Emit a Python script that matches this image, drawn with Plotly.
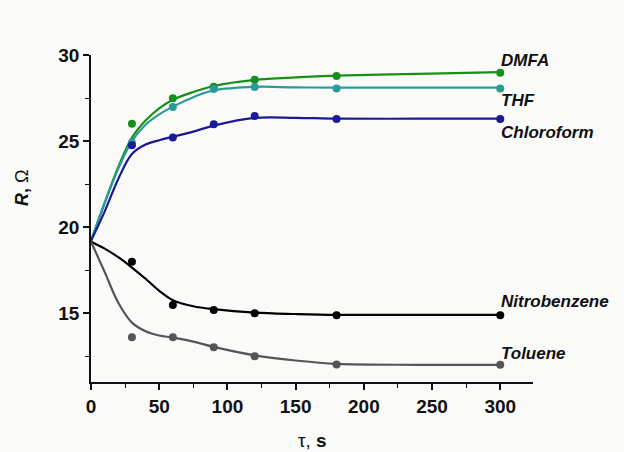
import plotly.graph_objects as go

# measured points
t_pts = [30, 60, 90, 120, 180, 300]
dmfa_pts = [26.0, 27.48, 28.15, 28.56, 28.78, 28.97]
thf_pts = [24.9, 26.98, 28.02, 28.14, 28.06, 28.06]
chloro_pts = [24.75, 25.2, 25.97, 26.45, 26.28, 26.28]
nitro_pts = [17.98, 15.48, 15.19, 15.0, 14.88, 14.88]
tol_pts = [13.6, 13.6, 13.02, 12.5, 12.02, 12.0]

# fitted curves
t_fit = [0, 10, 20, 30, 40, 50, 60, 75, 90, 120, 150, 180, 240, 300]
dmfa_fit = [19.2, 21.4, 23.5, 25.2, 26.2, 26.9, 27.4, 27.85, 28.2, 28.55, 28.7, 28.8, 28.9, 29.0]
thf_fit = [19.2, 21.4, 23.4, 25.0, 25.95, 26.55, 27.0, 27.55, 27.95, 28.15, 28.12, 28.1, 28.1, 28.1]
chloro_fit = [19.2, 20.9, 22.8, 24.25, 24.8, 25.05, 25.25, 25.55, 25.9, 26.35, 26.35, 26.3, 26.3, 26.3]
nitro_fit = [19.15, 18.75, 18.25, 17.65, 17.0, 16.3, 15.75, 15.4, 15.23, 15.03, 14.95, 14.9, 14.9, 14.9]
tol_fit = [19.15, 17.4, 15.6, 14.45, 13.95, 13.7, 13.58, 13.35, 13.04, 12.55, 12.25, 12.05, 12.0, 12.0]

names = ["DMFA", "THF", "Chloroform", "Nitrobenzene", "Toluene"]
label_y = [29.7, 27.33, 25.47, 15.66, 12.63]
colors = ["#17901a", "#2a9a9a", "#1a1a96", "#000000", "#555555"]

pts = [dmfa_pts, thf_pts, chloro_pts, nitro_pts, tol_pts]
fits = [dmfa_fit, thf_fit, chloro_fit, nitro_fit, tol_fit]

fig = go.Figure()
for name, p, f, c in zip(names, pts, fits, colors):
    fig.add_trace(go.Scatter(x=t_fit, y=f, mode="lines",
                             line=dict(color=c, width=2.2, shape="spline", smoothing=1.0),
                             showlegend=False))
    fig.add_trace(go.Scatter(x=t_pts, y=p, mode="markers",
                             marker=dict(color=c, size=8), showlegend=False))

for name, ly in zip(names, label_y):
    fig.add_annotation(x=300, y=ly, text=f"<b><i>{name}</i></b>", showarrow=False,
                       xanchor="left", yanchor="middle", xshift=-1,
                       font=dict(family="Liberation Sans, Arial", size=17, color="#111"))

fig.add_annotation(xref="paper", yref="paper", x=-0.155, y=0.595, xanchor="center",
                   yanchor="middle",
                   text="<b><i>R</i>,</b> Ω", textangle=-90, showarrow=False,
                   font=dict(family="Liberation Sans, Arial", size=18, color="#111"))
fig.add_annotation(xref="paper", yref="paper", x=0.5, y=-0.178, yanchor="middle",
                   xanchor="center",
                   text="τ, <b>s</b>", showarrow=False,
                   font=dict(family="Liberation Sans, Arial", size=19, color="#111"))

axis_common = dict(showline=True, linecolor="#111", linewidth=1.5, ticks="outside",
                   ticklen=6, tickwidth=1.5, tickcolor="#111", showgrid=False, zeroline=False,
                   tickfont=dict(family="Liberation Sans, Arial", size=19, color="#111", weight="bold"))

fig.update_xaxes(range=[0, 324], tickvals=[0, 50, 100, 150, 200, 250, 300],
                 minor=dict(tickvals=[25, 75, 125, 175, 225, 275], ticks="outside", ticklen=4,
                            tickwidth=1.2, tickcolor="#111"),
                 **axis_common)
fig.update_yaxes(range=[11, 30], tickvals=[15, 20, 25, 30],
                 minor=dict(tickvals=[12.5, 17.5, 22.5, 27.5], ticks="outside", ticklen=4,
                            tickwidth=1.2, tickcolor="#111"),
                 **axis_common)

fig.update_layout(width=624, height=452, margin=dict(l=91, r=91, t=55, b=70),
                  paper_bgcolor="#fafaf8", plot_bgcolor="#fafaf8", showlegend=False)

fig.write_html("out.html")
